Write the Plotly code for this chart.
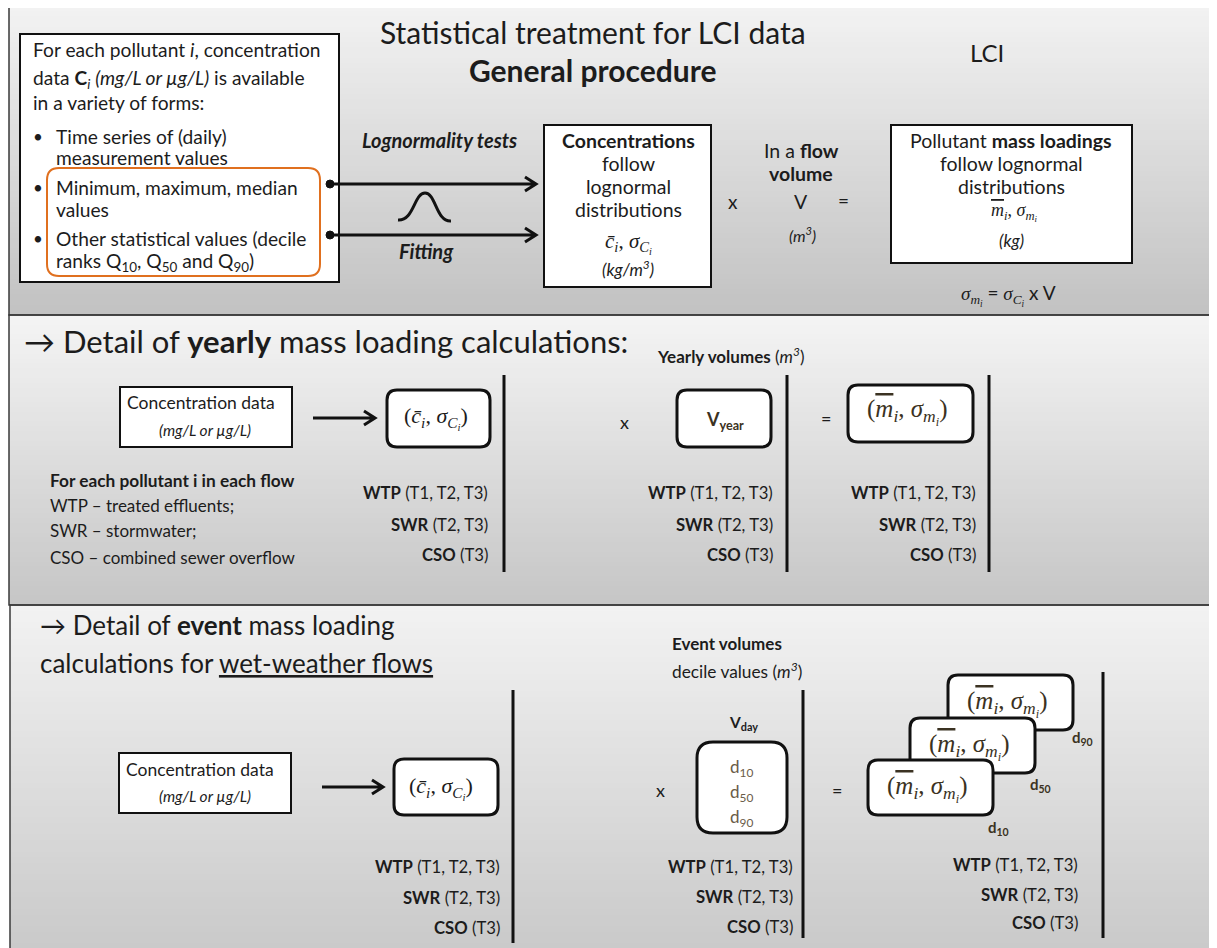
import plotly.graph_objects as go
import numpy as np

# page coordinates: the figure sits 8px inside the page (body margin)
OFF = 8
W, H = 1217, 948

# ---------------- content ----------------
title_main = "Statistical treatment for LCI data"
title_sub = "<b>General procedure</b>"
lci_label = "LCI"
intro_lines = ["For each pollutant <i>i</i>, concentration",
               "data <b>C</b><sub><i>i</i></sub> <i>(mg/L or µg/L)</i> is available",
               "in a variety of forms:"]
bullet_items = [["Time series of (daily)", "measurement values"],
                ["Minimum, maximum, median", "values"],
                ["Other statistical values (decile",
                 "ranks Q<sub>10</sub>, Q<sub>50</sub> and Q<sub>90</sub>)"]]
method_labels = ["<b><i>Lognormality tests</i></b>", "<b><i>Fitting</i></b>"]
conc_lines = ["<b>Concentrations</b>", "follow", "lognormal", "distributions"]
conc_unit = "<i>(kg/m<sup>3</sup>)</i>"
flow_lines = ["In a <b>flow</b>", "<b>volume</b>", "V"]
flow_unit = "<i>(m<sup>3</sup>)</i>"
mass_lines = ["Pollutant <b>mass loadings</b>", "follow lognormal", "distributions"]
mass_unit = "<i>(kg)</i>"
heading_yearly = "→ Detail of <b>yearly</b> mass loading calculations:"
heading_event = ["→ Detail of <b>event</b> mass loading",
                 "calculations for <u>wet-weather flows</u>"]
conc_data = ["Concentration data", "<i>(mg/L or µg/L)</i>"]
flow_intro = "<b>For each pollutant i in each flow</b>"
flows = ["WTP", "SWR", "CSO"]
flow_periods = ["(T1, T2, T3)", "(T2, T3)", "(T3)"]
flow_desc = ["treated effluents;", "stormwater;", "combined sewer overflow"]
yearly_vol = "<b>Yearly volumes</b> (<i>m<sup>3</sup></i>)"
v_year = "<b>V<sub>year</sub></b>"
event_vol = ["<b>Event volumes</b>", "decile values (<i>m<sup>3</sup></i>)"]
v_day = "<b>V<sub>day</sub></b>"
deciles = ["10", "50", "90"]

SANS = "Lato"
SERIF = "Liberation Serif"
INK = "#1c1c1c"
OLIVE = "#3b3222"
DCOL = "#6a5c48"

c_pair = "<i>c\u0304<sub>i</sub></i>, <i>σ<sub>C<sub>i</sub></sub></i>"
m_pair = ("<i><span style='text-decoration:overline'>m</span><sub>i</sub></i>, "
          "<i>σ<sub>m<sub>i</sub></sub></i>")

fig = go.Figure()

# ---------------- gradient panels ----------------
panels = [  # x0, x1, y0, y1, top gray, bottom gray
    (9, 1212, 6, 315, 242, 194),
    (9, 1218, 315, 605, 244, 198),
    (10, 1218, 605, 949, 242, 202),
]
for (x0, x1, y0, y1, gt, gb) in panels:
    n = 60
    ye = np.linspace(y0, y1, n + 1)
    z = np.linspace(gt, gb, n).reshape(-1, 1)
    fig.add_trace(go.Heatmap(x=[x0, x1], y=ye, z=z, zmin=0, zmax=255,
                             colorscale=[[0, "rgb(0,0,0)"], [1, "rgb(255,255,255)"]],
                             showscale=False, hoverinfo="skip"))
    fig.add_shape(type="rect", x0=x0, x1=x1, y0=y0, y1=y1,
                  line=dict(color="#3a3a3a", width=1.5), fillcolor="rgba(0,0,0,0)")


def text(x, y, t, size=17, anchor="center", color=INK, family=SANS):
    fig.add_annotation(x=x, y=y, xref="x", yref="y", text=t, showarrow=False,
                       xanchor=anchor, yanchor="middle",
                       font=dict(size=size, color=color, family=family))


def box(x0, y0, x1, y1, lw=2):
    fig.add_shape(type="rect", x0=x0, x1=x1, y0=y0, y1=y1,
                  line=dict(color="#111111", width=lw), fillcolor="white")


def rbox(x0, y0, x1, y1, r=10, lw=3, color="#111111", fill="white"):
    p = (f"M {x0+r} {y0} L {x1-r} {y0} Q {x1} {y0} {x1} {y0+r} "
         f"L {x1} {y1-r} Q {x1} {y1} {x1-r} {y1} L {x0+r} {y1} "
         f"Q {x0} {y1} {x0} {y1-r} L {x0} {y0+r} Q {x0} {y0} {x0+r} {y0} Z")
    fig.add_shape(type="path", path=p, line=dict(color=color, width=lw), fillcolor=fill)


def arrow(x0, x1, y, lw=3):
    p = f"M {x0} {y} L {x1} {y} M {x1-11} {y-7} L {x1} {y} L {x1-11} {y+7}"
    fig.add_shape(type="path", path=p, line=dict(color="#111111", width=lw))


def vline(x, y0, y1):
    fig.add_shape(type="line", x0=x, x1=x, y0=y0, y1=y1,
                  line=dict(color="#111111", width=3))


# ---------------- panel 1 ----------------
text(593, 32, title_main, size=30)
text(593, 70, title_sub, size=30)
text(987, 52, lci_label, size=24)

box(20, 34, 339, 282)
for t, y in zip(intro_lines, [49, 79, 102]):
    text(31, y, t, size=19.2, anchor="left")
b_y = [(136, 157), (187, 209), (238, 262)]
for item, (ya, yb) in zip(bullet_items, b_y):
    text(31, ya, "•", size=17, anchor="left")
    text(54, ya, item[0], size=19.2, anchor="left")
    text(54, yb, item[1], size=19.2, anchor="left")
rbox(47, 168, 320, 276, r=12, lw=2, color="#e0701f", fill="rgba(0,0,0,0)")

for y in (184, 235):
    fig.add_shape(type="circle", x0=326, x1=334, y0=y - 4, y1=y + 4,
                  line=dict(color="#111111", width=1), fillcolor="#111111")
    arrow(330, 536, y)
text(439, 140, method_labels[0], size=20)
text(426, 251, method_labels[1], size=20)
fig.add_shape(type="path",
              path="M 398 220 C 414 221, 414 193, 425 193 C 436 193, 436 222, 451 221",
              line=dict(color="#111111", width=3))

box(544, 125, 711, 287)
for t, y in zip(conc_lines, [140, 163, 186, 209]):
    text(628, y, t, size=19.5)
text(628, 243, c_pair, size=21, family=SERIF)
text(628, 268, conc_unit, size=17)

text(733, 201, "x", size=19)
for t, y in zip(flow_lines, [150, 173, 201]):
    text(801, y, t, size=19.5)
text(802, 234, flow_unit, size=16)
text(843, 200, "=", size=19)

box(891, 125, 1132, 263)
for t, y in zip(mass_lines, [140, 163, 186]):
    text(1011, y, t, size=19.5)
text(1014, 212, m_pair, size=18, family=SERIF)
text(1011, 240, mass_unit, size=17)
text(1008, 295, "<i>σ<sub>m<sub>i</sub></sub></i>"
     "<span style='font-family:Lato'> = </span><i>σ<sub>C<sub>i</sub></sub></i>"
     "<span style='font-family:Lato'> x V</span>", size=19, family=SERIF)

# ---------------- panel 2 ----------------
text(22, 341, heading_yearly, size=31, anchor="left")
box(120, 387, 292, 447)
text(201, 402, conc_data[0], size=17.5)
text(205, 430, conc_data[1], size=15.5)
arrow(313, 375, 418)
rbox(387, 390, 490, 447)
text(436, 418, "(" + c_pair + ")", size=22, family=SERIF)

text(48, 480, flow_intro, size=17.3, anchor="left")
for f, d, y in zip(flows, flow_desc, [505, 530, 557]):
    text(48, y, f + " – " + d, size=17, anchor="left")

row2 = [493, 525, 555]
for xr in (490, 775, 978):
    for f, pr, y in zip(flows, flow_periods, row2):
        text(xr, y, "<b>" + f + "</b> " + pr, size=16.7, anchor="right")
vline(504, 375, 572)
vline(787, 375, 572)
vline(989, 375, 572)

text(730, 355, yearly_vol, size=17)
text(624, 422, "x", size=18)
rbox(677, 390, 771, 447)
text(725, 420, v_year, size=18, color=OLIVE)
text(826, 418, "=", size=18)
rbox(848, 385, 973, 442)
text(907, 412, "(" + m_pair + ")", size=25, family=SERIF, color=OLIVE)

# ---------------- panel 3 ----------------
text(38, 625, heading_event[0], size=26, anchor="left")
text(38, 663, heading_event[1], size=26, anchor="left")

box(119, 753, 291, 813)
text(200, 769, conc_data[0], size=17.5)
text(205, 796, conc_data[1], size=15.5)
arrow(322, 383, 787)
rbox(394, 759, 498, 815)
text(441, 788, "(" + c_pair + ")", size=22, family=SERIF)
vline(513, 690, 943)

text(670, 643, event_vol[0], size=17, anchor="left")
text(670, 670, event_vol[1], size=17.3, anchor="left")
text(743, 723, v_day, size=15.5)
text(660, 790, "x", size=18)
rbox(697, 742, 787, 833, r=16)
for d, y in zip(deciles, [768, 793, 818]):
    text(741, y, "d<sub>" + d + "</sub>", size=17, color=DCOL)
vline(803, 690, 938)
text(837, 790, "=", size=18)

stack = [(948, 675, 1073, 730), (910, 718, 1035, 773), (868, 760, 993, 815)]
for (x0, y0, x1, y1) in stack:
    rbox(x0, y0, x1, y1)
    text((x0 + x1) / 2 - 4, (y0 + y1) / 2 + 1, "(" + m_pair + ")", size=25,
         family=SERIF, color=OLIVE)
for d, (x, y) in zip(deciles, [(998, 828), (1040, 785), (1082, 738)]):
    text(x, y, "<b>d<sub>" + d + "</sub></b>", size=15, color=OLIVE)
vline(1103, 672, 938)

for xr, rows in ((502, [867, 898, 928]), (795, [867, 897, 927]), (1080, [865, 895, 923])):
    for f, pr, y in zip(flows, flow_periods, rows):
        text(xr, y, "<b>" + f + "</b> " + pr, size=16.7, anchor="right")

fig.update_layout(width=W - OFF, height=H - OFF, margin=dict(l=0, r=0, t=0, b=0),
                  paper_bgcolor="white", plot_bgcolor="white", showlegend=False,
                  xaxis=dict(range=[OFF, W], visible=False, fixedrange=True),
                  yaxis=dict(range=[H, OFF], visible=False, fixedrange=True))
fig.write_html("out.html")
